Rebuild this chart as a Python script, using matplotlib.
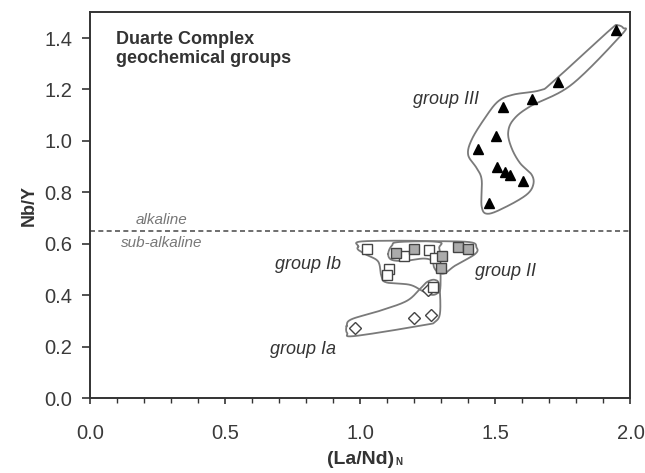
import numpy as np
import matplotlib
matplotlib.use("Agg")
import matplotlib.pyplot as plt
from matplotlib.ticker import MultipleLocator, FormatStrFormatter

plt.rcParams['font.family'] = ['Liberation Sans', 'DejaVu Sans']

# ---- sample data: (La/Nd)N vs Nb/Y ----
g3_x = [1.946, 1.730, 1.634, 1.529, 1.501, 1.434, 1.504, 1.535, 1.554, 1.601, 1.477]
g3_y = [1.430, 1.228, 1.164, 1.132, 1.020, 0.968, 0.900, 0.881, 0.869, 0.843, 0.758]

g1b_x = [1.023, 1.162, 1.254, 1.276, 1.107, 1.097, 1.267]
g1b_y = [0.580, 0.553, 0.577, 0.547, 0.502, 0.478, 0.433]

g2_x = [1.130, 1.198, 1.301, 1.298, 1.362, 1.397]
g2_y = [0.564, 0.582, 0.551, 0.508, 0.586, 0.580]

g1a_x = [1.249, 1.198, 1.261, 0.980]
g1a_y = [0.421, 0.310, 0.323, 0.275]

alkaline_divide = 0.65

# ---- hand-drawn group fields (closed outlines) ----
env3_x = [1.949, 1.973, 1.967, 1.782, 1.628, 1.566, 1.547, 1.560, 1.591, 1.634,
          1.640, 1.615, 1.541, 1.473, 1.449, 1.449, 1.430, 1.399, 1.412, 1.461,
          1.510, 1.566, 1.665, 1.714, 1.918]
env3_y = [1.449, 1.439, 1.413, 1.219, 1.134, 1.082, 1.031, 0.972, 0.914, 0.869,
          0.830, 0.791, 0.745, 0.717, 0.745, 0.849, 0.895, 0.946, 1.005, 1.089,
          1.154, 1.180, 1.197, 1.231, 1.426]

env1b_x = [0.992, 1.010, 1.276, 1.292, 1.296, 1.296, 1.285, 1.264, 1.233, 1.183,
           1.097, 1.078, 1.066, 1.023, 0.992]
env1b_y = [0.590, 0.610, 0.609, 0.583, 0.525, 0.428, 0.408, 0.402, 0.415, 0.441,
           0.450, 0.473, 0.531, 0.557, 0.577]

env2_x = [1.103, 1.116, 1.153, 1.393, 1.430, 1.424, 1.350, 1.313, 1.288, 1.273,
          1.266, 1.233, 1.165, 1.116]
env2_y = [0.560, 0.592, 0.608, 0.608, 0.586, 0.560, 0.515, 0.486, 0.489, 0.508,
          0.534, 0.543, 0.534, 0.538]

env1a_x = [0.949, 0.967, 1.072, 1.171, 1.220, 1.247, 1.276, 1.292, 1.295, 1.276,
           1.233, 0.980, 0.951]
env1a_y = [0.281, 0.307, 0.340, 0.378, 0.424, 0.452, 0.460, 0.437, 0.333, 0.297,
           0.284, 0.242, 0.253]


def closed_spline(xs, ys, n=24):
    """Closed Catmull-Rom curve through the given outline vertices."""
    p = np.column_stack([xs, ys])
    m = len(p)
    out = []
    t = np.linspace(0, 1, n, endpoint=False)[:, None]
    for i in range(m):
        p0, p1, p2, p3 = p[(i - 1) % m], p[i], p[(i + 1) % m], p[(i + 2) % m]
        seg = 0.5 * ((2 * p1) + (-p0 + p2) * t +
                     (2 * p0 - 5 * p1 + 4 * p2 - p3) * t ** 2 +
                     (-p0 + 3 * p1 - 3 * p2 + p3) * t ** 3)
        out.append(seg)
    out = np.vstack(out + [out[0][:1]])
    return out[:, 0], out[:, 1]


fig = plt.figure(figsize=(6.45, 4.73), dpi=100)
ax = fig.add_axes([0.140, 0.158, 0.8375, 0.816])

env_color = '#7a7a7a'
for ex, ey in [(env3_x, env3_y), (env1b_x, env1b_y), (env2_x, env2_y), (env1a_x, env1a_y)]:
    sx, sy = closed_spline(ex, ey)
    ax.plot(sx, sy, color=env_color, lw=1.3, zorder=2)

ax.axhline(alkaline_divide, color='#555555', lw=1.2, ls=(0, (3, 2)), zorder=1)

edge = '#444444'
ax.plot(g1a_x, g1a_y, ls='none', marker='D', ms=6.3, mfc='white', mec=edge, mew=1.0, zorder=3)
ax.plot(g1b_x, g1b_y, ls='none', marker='s', ms=7, mfc='white', mec=edge, mew=1.0, zorder=3)
ax.plot(g2_x, g2_y, ls='none', marker='s', ms=7, mfc='#ababab', mec=edge, mew=1.0, zorder=4)
ax.plot(g3_x, g3_y, ls='none', marker='^', ms=7.8, mfc='black', mec='black', zorder=3)

ax.set_xlim(0, 2.0)
ax.set_ylim(0, 1.5)
ax.xaxis.set_major_locator(MultipleLocator(0.5))
ax.xaxis.set_minor_locator(MultipleLocator(0.1))
ax.yaxis.set_major_locator(MultipleLocator(0.2))
ax.xaxis.set_major_formatter(FormatStrFormatter('%.1f'))
ax.yaxis.set_major_formatter(FormatStrFormatter('%.1f'))
ax.tick_params(axis='both', which='major', direction='out', width=1.2,
               labelsize=14.5, labelcolor='#3a3a3a', color='#333333')
ax.tick_params(axis='x', which='major', length=4.5, pad=14)
ax.tick_params(axis='y', which='major', length=6, pad=7)
ax.tick_params(axis='x', which='minor', direction='out', length=3.5, width=1.0, color='#333333')
for s in ax.spines.values():
    s.set_linewidth(1.4)
    s.set_color('#333333')

xl = ax.set_xlabel('(La/Nd)', fontsize=14, fontweight='bold', color='#333333', labelpad=6)
ax.set_ylabel('Nb/Y', fontsize=13, fontweight='bold', color='#333333', labelpad=5)

# small subscript N after the x-axis label
fig.canvas.draw()
bb = xl.get_window_extent()
fig.text(bb.x1 + 1, bb.y0 + 1, 'N', fontsize=7, fontweight='bold', color='#333333',
         ha='left', va='bottom', transform=None)

ax.text(0.094, 1.359, 'Duarte Complex\ngeochemical groups', fontsize=13, fontweight='bold',
        color='#333333', ha='left', va='center', linespacing=1.15)

lab = dict(fontsize=13, style='italic', color='#333333', ha='left', va='center')
ax.text(1.194, 1.160, 'group III', **lab)
ax.text(0.683, 0.518, 'group Ib', **lab)
ax.text(1.424, 0.492, 'group II', **lab)
ax.text(0.667, 0.188, 'group Ia', **lab)

ax.text(0.167, 0.693, 'alkaline', fontsize=11, style='italic', color='#777777', ha='left', va='center')
ax.text(0.112, 0.605, 'sub-alkaline', fontsize=11, style='italic', color='#777777', ha='left', va='center')

fig.savefig('out.png', dpi=100)
